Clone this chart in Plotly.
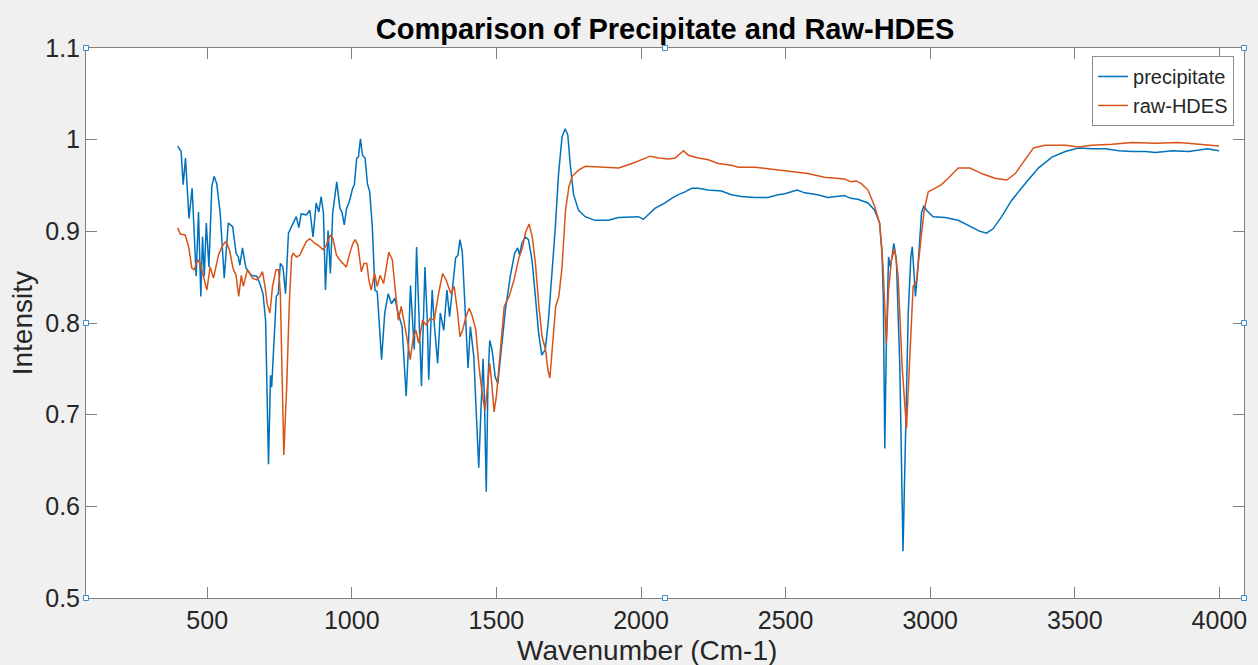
import plotly.graph_objects as go

# ---- data ----
precip_x = [398, 410, 417, 425, 437, 448, 462, 470, 478, 484, 490, 497, 506, 516, 524, 533, 545, 559, 573, 588,
            600, 608, 613, 622, 634, 653, 671, 682, 693, 702, 712, 719, 723, 730, 739, 746, 753, 762, 771, 781,
            791, 808, 817, 825, 843, 855, 866, 877, 886, 894, 902, 909, 918, 926, 934, 948, 959, 966, 974, 982,
            991, 1003, 1009, 1017, 1023, 1030, 1037, 1046, 1054, 1062, 1071, 1080, 1088, 1103, 1114, 1126, 1137,
            1149, 1160, 1174, 1188, 1195, 1203, 1211, 1216, 1224, 1232, 1241, 1253, 1261, 1266, 1278, 1286, 1297,
            1306, 1318, 1329, 1338, 1349, 1359, 1367, 1374, 1382, 1391, 1402, 1410, 1422, 1430, 1439, 1448, 1454,
            1459, 1465, 1471, 1477, 1485, 1496, 1505, 1519, 1531, 1548, 1563, 1574, 1580, 1588, 1600, 1611, 1623,
            1634, 1646, 1657, 1669, 1680, 1692, 1703, 1715, 1727, 1738, 1747, 1755, 1767, 1784, 1807, 1841, 1887,
            1922, 1968, 1991, 2008, 2025, 2048, 2083, 2106, 2129, 2152, 2175, 2198, 2232, 2278, 2313, 2347, 2393,
            2439, 2474, 2497, 2540, 2566, 2611, 2646, 2703, 2726, 2750, 2785, 2808, 2825, 2833, 2838, 2843, 2848,
            2856, 2862, 2868, 2874, 2883, 2895, 2906, 2914, 2924, 2933, 2938, 2944, 2949, 2956, 2964, 2970, 2978,
            2987, 3010, 3051, 3097, 3143, 3172, 3195, 3218, 3247, 3282, 3328, 3374, 3421, 3467, 3513, 3559, 3606,
            3652, 3698, 3744, 3779, 3837, 3894, 3929, 3958, 3999]
precip_y = [0.993, 0.987, 0.951, 0.980, 0.914, 0.947, 0.851, 0.921, 0.829, 0.894, 0.851, 0.909, 0.861, 0.949, 0.960,
            0.952, 0.920, 0.849, 0.909, 0.905, 0.876, 0.872, 0.863, 0.882, 0.860, 0.852, 0.851, 0.843, 0.832, 0.803,
            0.646, 0.743, 0.730, 0.774, 0.829, 0.832, 0.865, 0.861, 0.832, 0.898, 0.905, 0.916, 0.904, 0.919, 0.918,
            0.923, 0.894, 0.931, 0.921, 0.938, 0.920, 0.836, 0.901, 0.854, 0.920, 0.954, 0.925, 0.921, 0.907, 0.925,
            0.932, 0.947, 0.951, 0.980, 0.981, 1.001, 0.983, 0.980, 0.952, 0.943, 0.905, 0.836, 0.834, 0.760, 0.811,
            0.832, 0.821, 0.827, 0.811, 0.796, 0.720, 0.767, 0.841, 0.803, 0.771, 0.883, 0.803, 0.731, 0.861, 0.803,
            0.738, 0.836, 0.796, 0.756, 0.811, 0.792, 0.836, 0.807, 0.840, 0.871, 0.874, 0.891, 0.878, 0.825, 0.751,
            0.796, 0.763, 0.705, 0.642, 0.716, 0.761, 0.712, 0.616, 0.738, 0.781, 0.771, 0.741, 0.734, 0.774, 0.814,
            0.851, 0.876, 0.882, 0.874, 0.887, 0.894, 0.891, 0.869, 0.832, 0.789, 0.765, 0.771, 0.803, 0.851, 0.901,
            0.963, 1.003, 1.012, 1.005, 0.974, 0.940, 0.923, 0.916, 0.912, 0.912, 0.915, 0.916, 0.916, 0.913, 0.918,
            0.925, 0.931, 0.936, 0.940, 0.943, 0.947, 0.947, 0.945, 0.944, 0.940, 0.938, 0.937, 0.937, 0.940, 0.941,
            0.945, 0.942, 0.940, 0.937, 0.939, 0.936, 0.935, 0.931, 0.923, 0.909, 0.880, 0.825, 0.663, 0.771, 0.872,
            0.861, 0.872, 0.887, 0.869, 0.752, 0.551, 0.661, 0.811, 0.872, 0.883, 0.854, 0.829, 0.854, 0.898, 0.920,
            0.928, 0.923, 0.916, 0.915, 0.912, 0.905, 0.900, 0.898, 0.903, 0.916, 0.934, 0.952, 0.969, 0.981, 0.987,
            0.991, 0.990, 0.990, 0.988, 0.987, 0.987, 0.986, 0.988, 0.987, 0.989, 0.990, 0.988]

raw_x = [398, 407, 424, 436, 447, 455, 467, 476, 487, 499, 510, 522, 539, 551, 564, 577, 589, 600, 609, 618, 625,
         639, 657, 671, 683, 691, 700, 708, 717, 726, 738, 747, 753, 765, 775, 784, 792, 797, 809, 820, 832, 843,
         855, 872, 883, 901, 912, 926, 935, 947, 958, 970, 981, 993, 1004, 1012, 1021, 1033, 1042, 1052, 1059,
         1067, 1079, 1088, 1098, 1110, 1119, 1128, 1140, 1151, 1161, 1171, 1182, 1194, 1202, 1213, 1222, 1231,
         1245, 1257, 1271, 1285, 1300, 1314, 1326, 1343, 1354, 1366, 1374, 1383, 1395, 1406, 1417, 1429, 1440,
         1452, 1461, 1469, 1477, 1484, 1492, 1500, 1515, 1527, 1544, 1561, 1578, 1590, 1601, 1613, 1624, 1635,
         1647, 1658, 1670, 1678, 1685, 1693, 1705, 1716, 1727, 1739, 1751, 1762, 1785, 1808, 1854, 1923, 1969,
         2003, 2032, 2061, 2095, 2118, 2147, 2164, 2198, 2233, 2267, 2313, 2336, 2394, 2451, 2520, 2577, 2634,
         2681, 2704, 2727, 2744, 2762, 2785, 2808, 2825, 2837, 2848, 2856, 2866, 2877, 2889, 2903, 2918, 2929,
         2941, 2952, 2964, 2979, 2993, 3016, 3039, 3062, 3097, 3138, 3178, 3224, 3265, 3294, 3322, 3357, 3397,
         3467, 3513, 3559, 3629, 3698, 3779, 3860, 3929, 3999]
raw_y = [0.904, 0.897, 0.896, 0.883, 0.860, 0.858, 0.869, 0.865, 0.851, 0.836, 0.861, 0.849, 0.874, 0.883, 0.889,
         0.880, 0.860, 0.852, 0.829, 0.852, 0.840, 0.858, 0.849, 0.847, 0.851, 0.856, 0.840, 0.820, 0.811, 0.840,
         0.858, 0.858, 0.832, 0.656, 0.731, 0.822, 0.872, 0.876, 0.872, 0.874, 0.882, 0.889, 0.892, 0.887, 0.885,
         0.880, 0.885, 0.896, 0.892, 0.874, 0.869, 0.865, 0.861, 0.876, 0.887, 0.891, 0.885, 0.856, 0.865, 0.865,
         0.847, 0.836, 0.854, 0.840, 0.852, 0.843, 0.861, 0.877, 0.869, 0.832, 0.803, 0.818, 0.800, 0.778, 0.760,
         0.785, 0.792, 0.778, 0.803, 0.798, 0.805, 0.803, 0.832, 0.854, 0.847, 0.832, 0.840, 0.811, 0.785, 0.792,
         0.807, 0.816, 0.807, 0.792, 0.752, 0.720, 0.705, 0.734, 0.756, 0.734, 0.703, 0.720, 0.774, 0.818, 0.829,
         0.847, 0.871, 0.882, 0.899, 0.908, 0.894, 0.865, 0.818, 0.785, 0.771, 0.749, 0.740, 0.774, 0.818, 0.829,
         0.861, 0.923, 0.949, 0.960, 0.967, 0.971, 0.970, 0.969, 0.974, 0.978, 0.982, 0.980, 0.979, 0.980, 0.988,
         0.983, 0.980, 0.978, 0.974, 0.972, 0.970, 0.970, 0.968, 0.965, 0.963, 0.959, 0.958, 0.957, 0.954, 0.955,
         0.952, 0.945, 0.927, 0.909, 0.861, 0.778, 0.836, 0.869, 0.881, 0.851, 0.752, 0.685, 0.760, 0.840, 0.845,
         0.880, 0.923, 0.943, 0.947, 0.951, 0.958, 0.969, 0.969, 0.963, 0.958, 0.956, 0.963, 0.976, 0.991, 0.994,
         0.994, 0.992, 0.994, 0.995, 0.997, 0.996, 0.997, 0.995, 0.993]

x_ticks = [500, 1000, 1500, 2000, 2500, 3000, 3500, 4000]
y_ticks = [0.5, 0.6, 0.7, 0.8, 0.9, 1.0, 1.1]
y_ticktext = ["0.5", "0.6", "0.7", "0.8", "0.9", "1", "1.1"]

FONT = "Liberation Sans, Arial, Helvetica, sans-serif"
TXT = "#262626"
AX = "#808080"

fig = go.Figure()
fig.add_trace(go.Scatter(x=precip_x, y=precip_y, mode="lines", name="precipitate",
                         line=dict(color="#0072BD", width=1.5)))
fig.add_trace(go.Scatter(x=raw_x, y=raw_y, mode="lines", name="raw-HDES",
                         line=dict(color="#D95319", width=1.5)))

axis_common = dict(showline=True, linecolor=AX, linewidth=1, mirror="ticks", ticks="inside",
                   ticklen=11, tickcolor=AX, tickwidth=1, showgrid=False, zeroline=False,
                   tickfont=dict(family=FONT, size=25, color=TXT))
fig.update_xaxes(range=[81, 4085], tickvals=x_ticks, **axis_common)
fig.update_yaxes(range=[0.5, 1.1], tickvals=y_ticks, ticktext=y_ticktext, **axis_common)

# selection handles (MATLAB style)
shapes = []
for hx in (0, 0.5, 1):
    for hy in (0, 0.5, 1):
        if hx == 0.5 and hy == 0.5:
            continue
        shapes.append(dict(type="rect", xref="x domain", yref="y domain",
                           xsizemode="pixel", ysizemode="pixel", xanchor=hx, yanchor=hy,
                           x0=-2.5, x1=2.5, y0=-2.5, y1=2.5,
                           line=dict(color="#3a8fd0", width=1), fillcolor="white"))

fig.update_layout(
    width=1258, height=665,
    margin=dict(l=86, r=11, t=48, b=67),
    paper_bgcolor="#F0F0F0", plot_bgcolor="white",
    title=dict(text="<b>Comparison of Precipitate and Raw-HDES</b>",
               font=dict(family=FONT, size=29, color="black"),
               x=0.5, xref="paper", xanchor="center", y=1 - 29 / 665, yref="container", yanchor="middle"),
    legend=dict(x=0.9914, y=0.9855, xanchor="right", yanchor="top",
                bgcolor="white", bordercolor="#8c8c8c", borderwidth=1,
                font=dict(family=FONT, size=20, color=TXT), itemwidth=30,
                tracegroupgap=0),
    shapes=shapes,
    annotations=[
        dict(text="Wavenumber (Cm-1)", xref="paper", yref="paper", x=(648 - 86) / 1161, y=-(650 - 598) / 550,
             xanchor="center", yanchor="middle", showarrow=False,
             font=dict(family=FONT, size=28, color=TXT)),
        dict(text="Intensity", xref="paper", yref="paper", x=-0.055, y=0.5,
             xanchor="center", yanchor="middle", textangle=-90, showarrow=False,
             font=dict(family=FONT, size=28, color=TXT)),
    ],
    showlegend=True,
)

fig.write_html("out.html")
